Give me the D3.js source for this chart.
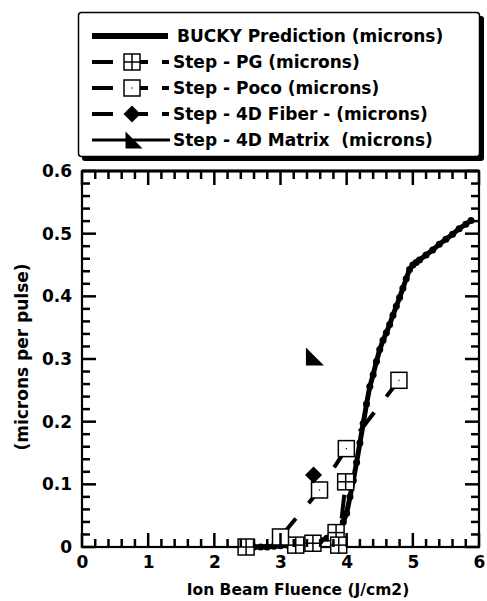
<!DOCTYPE html>
<html>
<head>
<meta charset="utf-8">
<script src="https://d3js.org/d3.v7.min.js"></script>
<style>
  body { margin: 0; background: #fff; }
  svg { display: block; }
  text { font-family: "DejaVu Sans", sans-serif; font-weight: bold; fill: #000; }
</style>
</head>
<body>
<svg id="chart"></svg>
<script>
// BUCKY prediction curve (microns per pulse vs fluence J/cm2)
const buckyX = [2.6, 2.7, 2.8, 2.9, 3.0, 3.1, 3.2, 3.3, 3.4, 3.5, 3.6, 3.7, 3.8, 3.9, 3.95,
  4.0, 4.05, 4.1, 4.15, 4.2, 4.25, 4.3, 4.35, 4.4, 4.45, 4.5, 4.55, 4.6, 4.65, 4.7, 4.75,
  4.8, 4.85, 4.9, 4.95, 5.0, 5.05, 5.1, 5.2, 5.3, 5.4, 5.5, 5.6, 5.7, 5.8, 5.88];
const buckyY = [0, 0, 0, 0.001, 0.002, 0.003, 0.004, 0.005, 0.006, 0.008, 0.010, 0.014, 0.018, 0.028, 0.04,
  0.054, 0.08, 0.106, 0.135, 0.166, 0.197, 0.228, 0.256, 0.275, 0.296, 0.315, 0.33, 0.342, 0.355, 0.37, 0.384,
  0.398, 0.413, 0.428, 0.443, 0.45, 0.454, 0.458, 0.466, 0.474, 0.483, 0.491, 0.499, 0.508, 0.515, 0.521];

// measured steps
const pgX = [2.48, 3.23, 3.49, 3.84, 3.88, 3.985];
const pgY = [0, 0.003, 0.006, 0.023, 0.003, 0.104];
const pocoX = [3.0, 3.59, 3.995, 4.79];
const pocoY = [0.016, 0.091, 0.157, 0.266];
const fiberX = [3.5];
const fiberY = [0.115];
const matrixX = [3.52];
const matrixY = [0.304];

const xTicks = [0, 1, 2, 3, 4, 5, 6];
const yTicks = [0, 0.1, 0.2, 0.3, 0.4, 0.5, 0.6];
const yTickLabels = ["0", "0.1", "0.2", "0.3", "0.4", "0.5", "0.6"];

const legendLabels = [
  "BUCKY Prediction (microns)",
  "Step - PG (microns)",
  "Step - Poco (microns)",
  "Step - 4D Fiber - (microns)",
  "Step - 4D Matrix\u00a0\u00a0(microns)"
];

const W = 487, H = 601;
const pLeft = 82, pRight = 479, pTop = 171, pBottom = 547;

const svg = d3.select("#chart").attr("width", W).attr("height", H);

const x = d3.scaleLinear().domain([0, 6]).range([pLeft, pRight]);
const y = d3.scaleLinear().domain([0, 0.6]).range([pBottom, pTop]);

const xMinor = d3.range(1, 30).map(i => i * 0.2).filter((v, i) => (i + 1) % 5 !== 0);
const yMinor = d3.range(1, 30).map(i => i * 0.02).filter((v, i) => (i + 1) % 5 !== 0);

const major = 14, minor = 8;

// frame
svg.append("rect").attr("x", pLeft).attr("y", pTop).attr("width", pRight - pLeft).attr("height", pBottom - pTop)
  .attr("fill", "none").attr("stroke", "#000").attr("stroke-width", 2.2);
svg.append("line").attr("x1", pLeft).attr("x2", pRight).attr("y1", pTop).attr("y2", pTop)
  .attr("stroke", "#000").attr("stroke-width", 3);

// tick labels through d3 axes (lines hidden)
const xb = svg.append("g").attr("transform", `translate(0,${pBottom})`)
  .call(d3.axisBottom(x).tickValues(xTicks).tickSize(0).tickPadding(9).tickFormat(d3.format("d")));
const yl = svg.append("g").attr("transform", `translate(${pLeft},0)`)
  .call(d3.axisLeft(y).tickValues(yTicks).tickSize(0).tickPadding(10).tickFormat((d, i) => yTickLabels[i]));
svg.selectAll(".domain").remove();
[xb, yl].forEach(g => g.selectAll("text").style("font-size", "17px").attr("fill", "#000")
  .attr("font-family", null));

// axis titles
svg.append("text").attr("x", 298).attr("y", 595).attr("text-anchor", "middle")
  .style("font-size", "15.5px").text("Ion Beam Fluence (J/cm2)");
svg.append("text").attr("transform", "translate(28,357) rotate(-90)").attr("text-anchor", "middle")
  .style("font-size", "17px").text("(microns per pulse)");

const line = d3.line().x(d => x(d[0])).y(d => y(d[1]));
const bucky = buckyX.map((v, i) => [v, buckyY[i]]);
const pg = pgX.map((v, i) => [v, pgY[i]]);
const poco = pocoX.map((v, i) => [v, pocoY[i]]);

const plot = svg.append("g");

plot.append("path").datum(bucky).attr("d", line)
  .attr("fill", "none").attr("stroke", "#000").attr("stroke-width", 5).attr("stroke-linejoin", "round");
plot.selectAll(".bdot").data(bucky).enter().append("circle")
  .attr("cx", d => x(d[0])).attr("cy", d => y(d[1])).attr("r", 3.5).attr("fill", "#000");

[pg, poco].forEach(s => {
  plot.append("path").datum(s).attr("d", line)
    .attr("fill", "none").attr("stroke", "#000").attr("stroke-width", 4)
    .attr("stroke-dasharray", "24,20");
});

// marker drawers
const S = 16;
function pgMarker(g, cx, cy, s) {
  g.append("rect").attr("x", cx - s / 2).attr("y", cy - s / 2).attr("width", s).attr("height", s)
    .attr("fill", "#fff").attr("stroke", "#000").attr("stroke-width", 1.5);
  g.append("line").attr("x1", cx).attr("x2", cx).attr("y1", cy - s / 2).attr("y2", cy + s / 2)
    .attr("stroke", "#000").attr("stroke-width", 1.5);
  g.append("line").attr("x1", cx - s / 2).attr("x2", cx + s / 2).attr("y1", cy).attr("y2", cy)
    .attr("stroke", "#000").attr("stroke-width", 1.5);
}
function pocoMarker(g, cx, cy, s) {
  g.append("rect").attr("x", cx - s / 2).attr("y", cy - s / 2).attr("width", s).attr("height", s)
    .attr("fill", "#fff").attr("stroke", "#000").attr("stroke-width", 1.5);
  g.append("rect").attr("x", cx - 0.6).attr("y", cy - 0.6).attr("width", 1.2).attr("height", 1.2).attr("fill", "#000");
}
function diamond(g, cx, cy, s) {
  const h = s / 2;
  g.append("path").attr("d", `M${cx},${cy - h}L${cx + h},${cy}L${cx},${cy + h}L${cx - h},${cy}Z`).attr("fill", "#000");
}
function triangle(g, cx, cy, s) {
  const h = s / 2;
  g.append("path").attr("d", `M${cx - h},${cy - h}L${cx + h},${cy + h}L${cx - h},${cy + h}Z`).attr("fill", "#000");
}

pg.forEach(d => pgMarker(plot, x(d[0]), y(d[1]), S));
poco.forEach(d => pocoMarker(plot, x(d[0]), y(d[1]), S));
fiberX.forEach((v, i) => diamond(plot, x(v), y(fiberY[i]), 17));
matrixX.forEach((v, i) => triangle(plot, x(v), y(matrixY[i]), 18));

// legend box with drop shadow
const lg = svg.append("g");
lg.append("rect").attr("x", 82).attr("y", 16).attr("width", 402).attr("height", 145).attr("rx", 3).attr("fill", "#000");
lg.append("rect").attr("x", 78.5).attr("y", 12.5).attr("width", 401).attr("height", 144).attr("rx", 3)
  .attr("fill", "#fff").attr("stroke", "#000").attr("stroke-width", 1.5);

const rowY = [36, 62, 88, 114, 140];
const lx1 = 92, lx2 = 168, mx = 132;

lg.append("line").attr("x1", lx1).attr("x2", lx2).attr("y1", rowY[0]).attr("y2", rowY[0])
  .attr("stroke", "#000").attr("stroke-width", 6);
[1, 2, 3].forEach(i => {
  lg.append("line").attr("x1", lx1).attr("x2", lx2 + 1).attr("y1", rowY[i]).attr("y2", rowY[i])
    .attr("stroke", "#000").attr("stroke-width", 4).attr("stroke-dasharray", "21,14");
});
lg.append("line").attr("x1", lx1).attr("x2", lx2 + 2).attr("y1", rowY[4]).attr("y2", rowY[4])
  .attr("stroke", "#000").attr("stroke-width", 3);
pgMarker(lg, mx, rowY[1], S);
pocoMarker(lg, mx, rowY[2], S);
diamond(lg, mx, rowY[3], 17);
triangle(lg, 134, rowY[4], 17);

lg.selectAll(".ltxt").data(legendLabels).enter().append("text")
  .attr("x", (d, i) => i === 0 ? 177 : 173)
  .attr("y", (d, i) => rowY[i])
  .attr("dy", "0.36em")
  .style("font-size", "17px")
  .text(d => d);

// inward ticks, drawn last in the same way as the check that rendered
const tg = svg.append("g");
function addTicks(vals, isX, len) {
  tg.selectAll(null).data(vals).enter().append("line")
    .attr("x1", d => isX ? x(d) : pLeft).attr("x2", d => isX ? x(d) : pLeft + len)
    .attr("y1", d => isX ? pBottom : y(d)).attr("y2", d => isX ? pBottom - len : y(d))
    .attr("stroke", "black").attr("stroke-width", 2.5);
  tg.selectAll(null).data(vals).enter().append("line")
    .attr("x1", d => isX ? x(d) : pRight).attr("x2", d => isX ? x(d) : pRight - len)
    .attr("y1", d => isX ? pTop : y(d)).attr("y2", d => isX ? pTop + len : y(d))
    .attr("stroke", "black").attr("stroke-width", 2.5);
}
addTicks(xMinor, true, minor);
addTicks(xTicks, true, major);
addTicks(yMinor, false, minor);
addTicks(yTicks, false, major);
</script>
</body>
</html>
